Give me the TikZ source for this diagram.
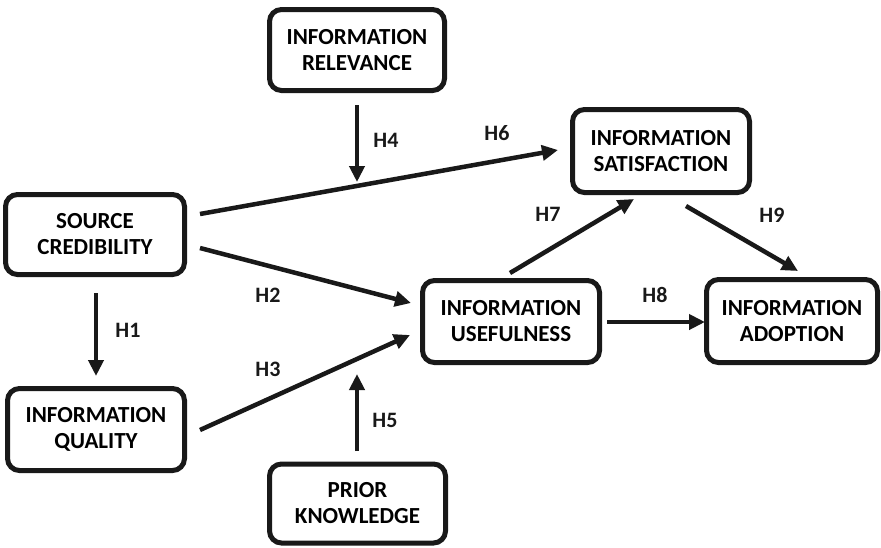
\documentclass[tikz,border=0pt]{standalone}
\usepackage{fontspec}
\setmainfont{Carlito}
\usetikzlibrary{arrows.meta}
\begin{document}
\begin{tikzpicture}[x=1pt,y=-1pt,
  box/.style={draw=black!90, line width=5pt, rounded corners=12pt, align=center,
    font=\fontsize{23}{26}\selectfont\bfseries, inner sep=0pt},
  arr/.style={line width=4.5pt, draw=black!90, -{Triangle[length=16pt,width=15pt]}},
  hlab/.style={font=\fontsize{22}{24}\selectfont\bfseries, text=black!90, inner sep=0pt}]
\useasboundingbox (0,0) rectangle (881,547);
% boxes
\node[box, minimum width=175pt, minimum height=81pt] (ir) at (357,50) {INFORMATION\\RELEVANCE};
\node[box, minimum width=179pt, minimum height=80pt] (sc) at (95,234.5) {SOURCE\\CREDIBILITY};
\node[box, minimum width=177pt, minimum height=82pt] (iq) at (96,429.5) {INFORMATION\\QUALITY};
\node[box, minimum width=176pt, minimum height=79pt] (pk) at (357.5,503.5) {PRIOR\\KNOWLEDGE};
\node[box, minimum width=177pt, minimum height=83pt] (is) at (661,151) {INFORMATION\\SATISFACTION};
\node[box, minimum width=177pt, minimum height=82pt] (iu) at (511,321.5) {INFORMATION\\USEFULNESS};
\node[box, minimum width=171pt, minimum height=83pt] (ia) at (792,321) {INFORMATION\\ADOPTION};
% arrow end points
\coordinate (h4s) at (357,105);
\coordinate (h4e) at (357,182);
\coordinate (h6s) at (200,214);
\coordinate (h6e) at (558,150);
\coordinate (h2s) at (200,248);
\coordinate (h2e) at (411,303);
\coordinate (h1s) at (96,293);
\coordinate (h1e) at (96,376);
\coordinate (h3s) at (200,430);
\coordinate (h3e) at (410,335);
\coordinate (h5s) at (357,451);
\coordinate (h5e) at (357,374);
\coordinate (h7s) at (510,273);
\coordinate (h7e) at (634,199);
\coordinate (h9s) at (686,206);
\coordinate (h9e) at (798,271);
\coordinate (h8s) at (607,322);
\coordinate (h8e) at (705,322);
% arrows
\draw[arr] (h6s) -- (h6e);
\draw[arr] (h4s) -- (h4e);
\draw[arr] (h2s) -- (h2e);
\draw[arr] (h1s) -- (h1e);
\draw[arr] (h3s) -- (h3e);
\draw[arr] (h5s) -- (h5e);
\draw[arr] (h7s) -- (h7e);
\draw[arr] (h9s) -- (h9e);
\draw[arr] (h8s) -- (h8e);
% labels
\node[hlab] (l4) at (386,140) {H4};
\node[hlab] (l6) at (497,133) {H6};
\node[hlab] (l7) at (548,214) {H7};
\node[hlab] (l9) at (772,215) {H9};
\node[hlab] (l8) at (655,295) {H8};
\node[hlab] (l2) at (268,295) {H2};
\node[hlab] (l1) at (128,330) {H1};
\node[hlab] (l3) at (268,369) {H3};
\node[hlab] (l5) at (385,420) {H5};
\end{tikzpicture}
\end{document}
